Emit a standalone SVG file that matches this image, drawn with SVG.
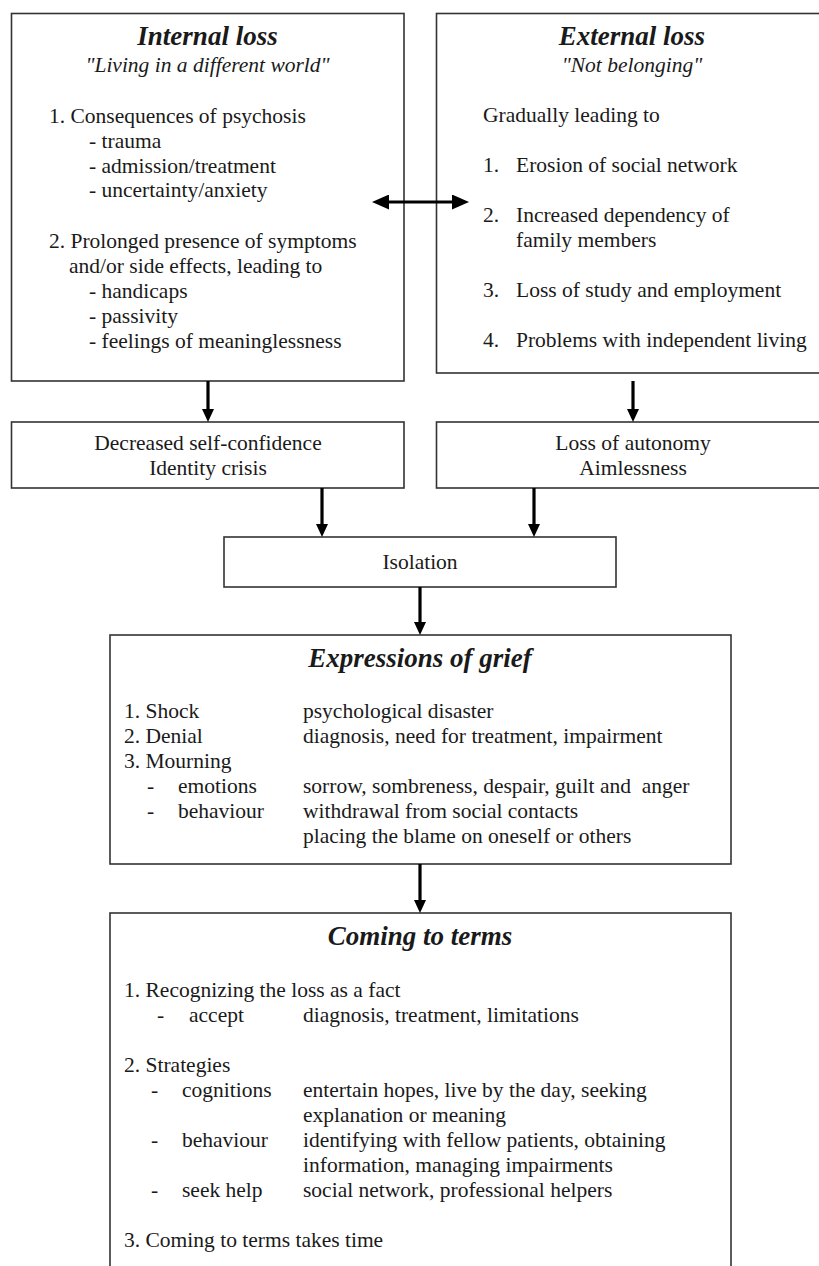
<svg xmlns="http://www.w3.org/2000/svg" width="819" height="1266" viewBox="0 0 819 1266">
<style>
.box{fill:#fff;stroke:#333;stroke-width:1.6}
text{font-family:"Liberation Serif","Times New Roman",serif;font-size:21.5px;fill:#1a1a1a;white-space:pre}
.t{font-weight:bold;font-style:italic;font-size:27px;text-anchor:middle}
.s{font-style:italic;text-anchor:middle}
.c{text-anchor:middle}
.arr{stroke:#000;stroke-width:3.2;fill:none}
</style>
<defs>
<marker id="ah" markerUnits="userSpaceOnUse" viewBox="0 0 13 12" refX="2" refY="6" markerWidth="13" markerHeight="12" orient="auto-start-reverse">
<path d="M0,0 L13,6 L0,12 z" fill="#000"/>
</marker>
<marker id="ah2" markerUnits="userSpaceOnUse" viewBox="0 0 17 15" refX="3" refY="7.5" markerWidth="17" markerHeight="15" orient="auto-start-reverse">
<path d="M0,0 L17,7.5 L0,15 z" fill="#000"/>
</marker>
</defs>
<rect width="819" height="1266" fill="#fff"/>

<g id="internal-loss">
<rect class="box" x="11.5" y="13.5" width="392.5" height="367.5"/>
<text class="t" x="207.5" y="45">Internal loss</text>
<text class="s" x="207.5" y="72">"Living in a different world"</text>
<text x="49" y="123">1. Consequences of psychosis</text>
<text x="89" y="148">- trauma</text>
<text x="89" y="173">- admission/treatment</text>
<text x="89" y="197">- uncertainty/anxiety</text>
<text x="49" y="248">2. Prolonged presence of symptoms</text>
<text x="69" y="273">and/or side effects, leading to</text>
<text x="89" y="298">- handicaps</text>
<text x="89" y="323">- passivity</text>
<text x="89" y="348">- feelings of meaninglessness</text>
</g>

<g id="external-loss">
<rect class="box" x="436.5" y="13.5" width="395" height="359.5"/>
<text class="t" x="632" y="45">External loss</text>
<text class="s" x="632" y="72">"Not belonging"</text>
<text x="483" y="122">Gradually leading to</text>
<text x="483" y="172">1.</text><text x="516" y="172">Erosion of social network</text>
<text x="483" y="222">2.</text><text x="516" y="222">Increased dependency of</text>
<text x="516" y="247">family members</text>
<text x="483" y="297">3.</text><text x="516" y="297">Loss of study and employment</text>
<text x="483" y="347">4.</text><text x="516" y="347">Problems with independent living</text>
</g>

<g id="self-confidence">
<rect class="box" x="11.5" y="422" width="392.5" height="66"/>
<text class="c" x="208" y="450">Decreased self-confidence</text>
<text class="c" x="208" y="475">Identity crisis</text>
</g>

<g id="autonomy">
<rect class="box" x="436.5" y="422" width="395" height="66"/>
<text class="c" x="633" y="450">Loss of autonomy</text>
<text class="c" x="633" y="475">Aimlessness</text>
</g>

<g id="isolation">
<rect class="box" x="224" y="537" width="392" height="50"/>
<text class="c" x="420" y="569">Isolation</text>
</g>

<g id="expressions-of-grief">
<rect class="box" x="110" y="635" width="621" height="229"/>
<text class="t" x="420" y="667">Expressions of grief</text>
<text x="124" y="718">1. Shock</text><text x="303" y="718">psychological disaster</text>
<text x="124" y="743">2. Denial</text><text x="303" y="743">diagnosis, need for treatment, impairment</text>
<text x="124" y="768">3. Mourning</text>
<text x="147" y="793">-</text><text x="178" y="793">emotions</text><text x="303" y="793">sorrow, sombreness, despair, guilt and  anger</text>
<text x="147" y="818">-</text><text x="178" y="818">behaviour</text><text x="303" y="818">withdrawal from social contacts</text>
<text x="303" y="843">placing the blame on oneself or others</text>
</g>

<g id="coming-to-terms">
<rect class="box" x="110" y="913" width="621" height="370"/>
<text class="t" x="420" y="945">Coming to terms</text>
<text x="124" y="997">1. Recognizing the loss as a fact</text>
<text x="157" y="1022">-</text><text x="189" y="1022">accept</text><text x="303" y="1022">diagnosis, treatment, limitations</text>
<text x="124" y="1072">2. Strategies</text>
<text x="151" y="1097">-</text><text x="182" y="1097">cognitions</text><text x="303" y="1097">entertain hopes, live by the day, seeking</text>
<text x="303" y="1122">explanation or meaning</text>
<text x="151" y="1147">-</text><text x="182" y="1147">behaviour</text><text x="303" y="1147">identifying with fellow patients, obtaining</text>
<text x="303" y="1172">information, managing impairments</text>
<text x="151" y="1197">-</text><text x="182" y="1197">seek help</text><text x="303" y="1197">social network, professional helpers</text>
<text x="124" y="1247">3. Coming to terms takes time</text>
</g>

<g id="connectors">
<line class="arr" x1="208" y1="381" x2="208" y2="411" marker-end="url(#ah)"/>
<line class="arr" x1="633" y1="381" x2="633" y2="411" marker-end="url(#ah)"/>
<line class="arr" x1="322" y1="488" x2="322" y2="526" marker-end="url(#ah)"/>
<line class="arr" x1="534" y1="488" x2="534" y2="526" marker-end="url(#ah)"/>
<line class="arr" x1="420" y1="587" x2="420" y2="624" marker-end="url(#ah)"/>
<line class="arr" x1="420" y1="864" x2="420" y2="902" marker-end="url(#ah)"/>
<line class="arr" x1="386" y1="202" x2="455" y2="202" marker-start="url(#ah2)" marker-end="url(#ah2)"/>
</g>
</svg>
